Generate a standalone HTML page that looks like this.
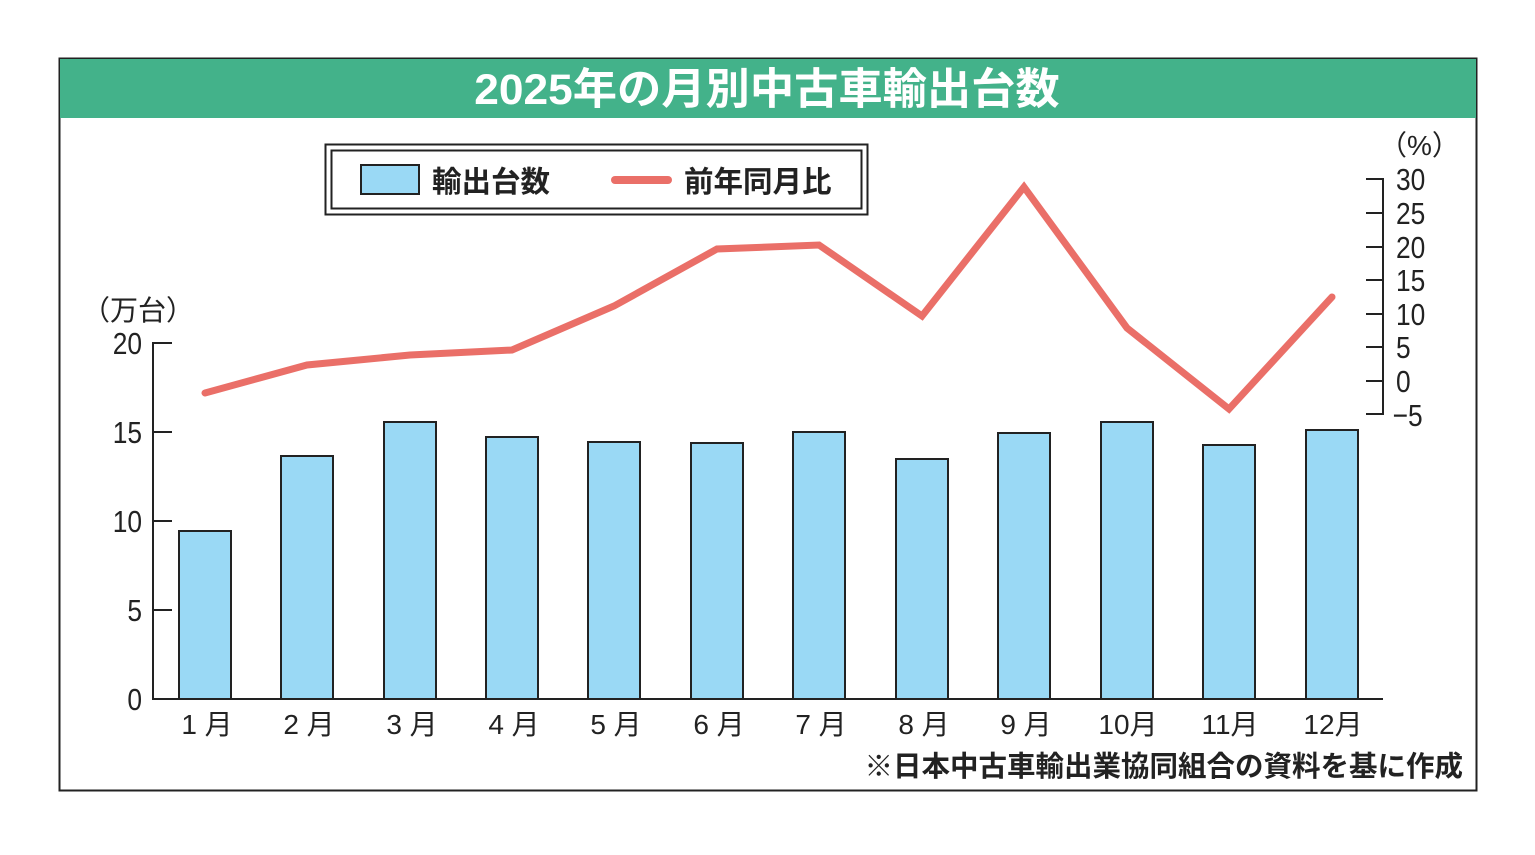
<!DOCTYPE html>
<html><head><meta charset="utf-8"><style>
body{margin:0;background:#fff}
svg text{font-family:"Liberation Sans","Noto Sans CJK JP",sans-serif}
</style></head><body>
<svg width="1535" height="850" xmlns="http://www.w3.org/2000/svg">
<rect x="0" y="0" width="1535" height="850" fill="#fff"/>
<rect x="59.5" y="58.5" width="1417" height="732" fill="#fff" stroke="#222" stroke-width="2"/>
<rect x="60" y="59" width="1416" height="59" fill="#43b28a"/>
<text x="767" y="104" fill="#fff" font-size="43" font-weight="bold" text-anchor="middle" transform="translate(767 0) scale(1.03 1) translate(-767 0)">2025年の月別中古車輸出台数</text>
<!-- legend -->
<rect x="325.5" y="144.5" width="542" height="70" fill="none" stroke="#222" stroke-width="2"/>
<rect x="331.5" y="150.5" width="530" height="58" fill="none" stroke="#222" stroke-width="2"/>
<rect x="361" y="165" width="58" height="29" fill="#9ad9f5" stroke="#222" stroke-width="2"/>
<text x="432" y="192" font-size="29.5" font-weight="bold" fill="#222">輸出台数</text>
<line x1="615" y1="180" x2="668" y2="180" stroke="#ea6f68" stroke-width="8" stroke-linecap="round"/>
<text x="684" y="192" font-size="29.5" font-weight="bold" fill="#222">前年同月比</text>
<!-- left axis -->
<text x="82" y="320" font-size="28" fill="#222">（万台）</text>
<g stroke="#222" stroke-width="2" fill="none">
<line x1="153" y1="342" x2="153" y2="700"/>
<line x1="152" y1="699" x2="1383" y2="699"/>
<line x1="153" y1="343" x2="172" y2="343"/>
<line x1="153" y1="432" x2="172" y2="432"/>
<line x1="153" y1="521" x2="172" y2="521"/>
<line x1="153" y1="610" x2="172" y2="610"/>
<line x1="1383" y1="178" x2="1383" y2="415"/>
<line x1="1366" y1="179" x2="1383" y2="179"/>
<line x1="1366" y1="213" x2="1383" y2="213"/>
<line x1="1366" y1="247" x2="1383" y2="247"/>
<line x1="1366" y1="280" x2="1383" y2="280"/>
<line x1="1366" y1="314" x2="1383" y2="314"/>
<line x1="1366" y1="347" x2="1383" y2="347"/>
<line x1="1366" y1="381" x2="1383" y2="381"/>
<line x1="1366" y1="414" x2="1383" y2="414"/>
</g>
<g font-size="31" fill="#222" text-anchor="end">
<text x="142" y="354" transform="translate(142 0) scale(0.85 1) translate(-142 0)">20</text>
<text x="142" y="443" transform="translate(142 0) scale(0.85 1) translate(-142 0)">15</text>
<text x="142" y="532" transform="translate(142 0) scale(0.85 1) translate(-142 0)">10</text>
<text x="142" y="621" transform="translate(142 0) scale(0.85 1) translate(-142 0)">5</text>
<text x="142" y="710" transform="translate(142 0) scale(0.85 1) translate(-142 0)">0</text>
</g>
<text x="1379" y="155" font-size="28" fill="#222">（%）</text>
<g font-size="31" fill="#222" transform="translate(1396 0) scale(0.85 1) translate(-1396 0)">
<text x="1396" y="190">30</text>
<text x="1396" y="224">25</text>
<text x="1396" y="258">20</text>
<text x="1396" y="291">15</text>
<text x="1396" y="325">10</text>
<text x="1396" y="358">5</text>
<text x="1396" y="392">0</text>
<text x="1392" y="426">−5</text>
</g>
<!-- bars -->
<g fill="#9ad9f5" stroke="#222" stroke-width="2">
<rect x="179" y="531" width="52" height="168"/>
<rect x="281" y="456" width="52" height="243"/>
<rect x="384" y="422" width="52" height="277"/>
<rect x="486" y="437" width="52" height="262"/>
<rect x="588" y="442" width="52" height="257"/>
<rect x="691" y="443" width="52" height="256"/>
<rect x="793" y="432" width="52" height="267"/>
<rect x="896" y="459" width="52" height="240"/>
<rect x="998" y="433" width="52" height="266"/>
<rect x="1101" y="422" width="52" height="277"/>
<rect x="1203" y="445" width="52" height="254"/>
<rect x="1306" y="430" width="52" height="269"/>
</g>
<polyline points="205,393 307,365 410,355 512,350 614,306 717,249 819,245 922,316 1024,187 1127,328 1229,409 1332,297" fill="none" stroke="#ea6f68" stroke-width="7" stroke-linejoin="miter" stroke-linecap="round"/>
<g font-size="28" fill="#222" text-anchor="middle">
<text x="207" y="734">1 月</text>
<text x="309" y="734">2 月</text>
<text x="412" y="734">3 月</text>
<text x="514" y="734">4 月</text>
<text x="616" y="734">5 月</text>
<text x="719" y="734">6 月</text>
<text x="821" y="734">7 月</text>
<text x="924" y="734">8 月</text>
<text x="1026" y="734">9 月</text>
<text x="1128" y="734">10月</text>
<text x="1230" y="734">11月</text>
<text x="1333" y="734">12月</text>
</g>
<text x="1463" y="776" font-size="28.5" font-weight="bold" fill="#222" text-anchor="end">※日本中古車輸出業協同組合の資料を基に作成</text>
</svg>
</body></html>
